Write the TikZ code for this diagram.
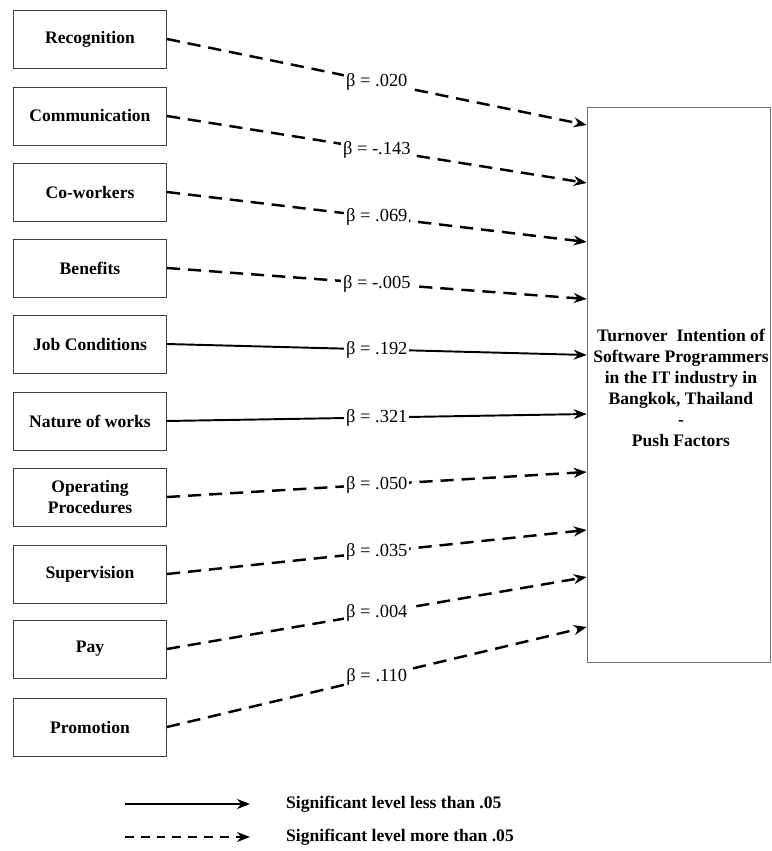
\documentclass[tikz,border=0pt]{standalone}
\usepackage{fontspec}
\setmainfont{Liberation Serif}
\usetikzlibrary{positioning,arrows.meta}

\begin{document}
\begin{tikzpicture}[
    x=0.02cm, y=-0.02cm,
    factor/.style={draw=black!75, line width=0.5pt, minimum width=3.06cm, minimum height=1.16cm, align=center, font=\bfseries, inner sep=2pt},
    outcome/.style={draw=black!55, line width=0.4pt, minimum width=3.66cm, minimum height=11.1cm},
    sigline/.style={draw, line width=1.1pt, -{Stealth[length=2.6mm, width=2mm]}},
    nsline/.style={draw, line width=1.4pt, dash pattern=on 7.5pt off 4.5pt, -{Stealth[length=2.6mm, width=2mm]}},
    beta/.style={fill=white, inner sep=1pt, midway, font=\fontsize{10.5}{12}\selectfont},
    legendtext/.style={anchor=west, font=\bfseries}
]
\useasboundingbox (0,0) rectangle (771,851);

% Factor boxes on the left
\node[factor] (rec) at (90,39) {Recognition};
\node[factor] (com) at (90,116) {Communication};
\node[factor] (cow) at (90,192) {Co-workers};
\node[factor] (ben) at (90,268) {Benefits};
\node[factor] (job) at (90,344) {Job Conditions};
\node[factor] (nat) at (90,421) {Nature of works};
\node[factor] (opr) at (90,497) {Operating\\Procedures};
\node[factor] (sup) at (90,574) {Supervision};
\node[factor] (pay) at (90,649) {Pay};
\node[factor] (pro) at (90,727) {Promotion};

% Outcome box on the right
\node[outcome] (tov) at (678.5,384.5) {};
\node[align=center, font=\bfseries] (tovtext) at (681,388) {Turnover\ \ Intention of\\Software Programmers\\in the IT industry in\\Bangkok, Thailand\\-\\Push Factors};

% Arrow ends on the outcome box
\coordinate (in1) at (tov.west |- 0,125);
\coordinate (in2) at (tov.west |- 0,183);
\coordinate (in3) at (tov.west |- 0,242);
\coordinate (in4) at (tov.west |- 0,299);
\coordinate (in5) at (tov.west |- 0,355);
\coordinate (in6) at (tov.west |- 0,414);
\coordinate (in7) at (tov.west |- 0,472);
\coordinate (in8) at (tov.west |- 0,530);
\coordinate (in9) at (tov.west |- 0,577);
\coordinate (in10) at (tov.west |- 0,627);

% Paths with beta weights
\draw[nsline] (rec.east) -- (in1) node[beta] {β = .020};
\draw[nsline] (com.east) -- (in2) node[beta] {β = -.143};
\draw[nsline] (cow.east) -- (in3) node[beta] {β = .069};
\draw[nsline] (ben.east) -- (in4) node[beta] {β = -.005};
\draw[sigline] (job.east) -- (in5) node[beta] {β = .192};
\draw[sigline] (nat.east) -- (in6) node[beta] {β = .321};
\draw[nsline] (opr.east) -- (in7) node[beta] {β = .050};
\draw[nsline] (sup.east) -- (in8) node[beta] {β = .035};
\draw[nsline] (pay.east) -- (in9) node[beta] {β = .004};
\draw[nsline] (pro.east) -- (in10) node[beta] {β = .110};

% Legend
\node[legendtext] (lgs) at (280,804) {Significant level less than .05};
\node[legendtext] (lgn) at (280,837) {Significant level more than .05};
\coordinate (lgs0) at (125,804);
\coordinate (lgn0) at (125,837);
\draw[sigline, line width=1pt] (lgs0) -- ([xshift=-0.6cm]lgs.west);
\draw[nsline, line width=1pt, dash pattern=on 5pt off 4pt] (lgn0) -- ([xshift=-0.6cm]lgn.west);

\end{tikzpicture}
\end{document}
